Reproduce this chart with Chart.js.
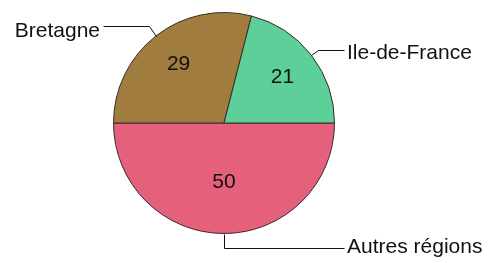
<!DOCTYPE html>
<html lang="fr">
<head>
    <meta charset="UTF-8">
    <title>Pie Chart</title>
    <script src="https://cdn.jsdelivr.net/npm/chart.js"></script>
    <style>
        body {
            margin: 0;
            background-color: #ffffff;
        }
        #myChart {
            display: block;
        }
    </style>
</head>
<body>
    <canvas id="myChart" width="488" height="263"></canvas>
    <script>
        // data, in drawing order starting at 3 o'clock, clockwise
        const categories = ['Autres régions', 'Bretagne', 'Ile-de-France'];
        const values = [50, 29, 21];
        const colors = ['#E5607A', '#A07C3E', '#5DCF99'];

        // label placement per slice (style only)
        const labelStyle = [
            { inner: 0.54, ext: 14, toX: 120, dy: 0 },
            { inner: 0.67, ext: 12, toX: -121, dy: 5 },
            { inner: 0.67, ext: 9, toX: 120, dy: 3 }
        ];

        const pieLabels = {
            id: 'pieLabels',
            afterDraw(chart) {
                const c = chart.ctx;
                const arcs = chart.getDatasetMeta(0).data;
                c.save();
                c.font = '21px "Liberation Sans", Arial, sans-serif';
                c.fillStyle = '#111';
                c.strokeStyle = '#111';
                c.lineWidth = 1;
                arcs.forEach((arc, i) => {
                    const { x, y, startAngle, endAngle, outerRadius } = arc.getProps(['x', 'y', 'startAngle', 'endAngle', 'outerRadius'], true);
                    const mid = (startAngle + endAngle) / 2;
                    const cos = Math.cos(mid), sin = Math.sin(mid);
                    const st = labelStyle[i];

                    // value inside slice
                    c.textAlign = 'center';
                    c.textBaseline = 'middle';
                    c.fillText(String(values[i]), x + cos * outerRadius * st.inner, y + sin * outerRadius * st.inner);

                    // leader line
                    const px = x + cos * outerRadius, py = y + sin * outerRadius;
                    const ex = x + cos * (outerRadius + st.ext), ey = y + sin * (outerRadius + st.ext);
                    const hx = x + st.toX;
                    c.beginPath();
                    c.moveTo(Math.round(px) + 0.5, Math.round(py) + 0.5);
                    c.lineTo(Math.round(ex) + 0.5, Math.round(ey) + 0.5);
                    c.lineTo(Math.round(hx) + 0.5, Math.round(ey) + 0.5);
                    c.stroke();

                    const left = st.toX < 0;
                    c.textAlign = left ? 'right' : 'left';
                    c.fillText(categories[i], hx + (left ? -3 : 3), ey + st.dy);
                });
                c.restore();
            }
        };

        const ctx = document.getElementById('myChart').getContext('2d');
        const myChart = new Chart(ctx, {
            type: 'pie',
            data: {
                labels: categories,
                datasets: [{
                    data: values,
                    backgroundColor: colors,
                    borderColor: '#3a2a2a',
                    borderWidth: 1
                }]
            },
            options: {
                responsive: false,
                animation: false,
                rotation: 90,
                layout: {
                    padding: { left: 113, right: 153, top: 12, bottom: 29 }
                },
                plugins: {
                    legend: { display: false },
                    tooltip: { enabled: false }
                }
            },
            plugins: [pieLabels]
        });
    </script>
</body>
</html>
